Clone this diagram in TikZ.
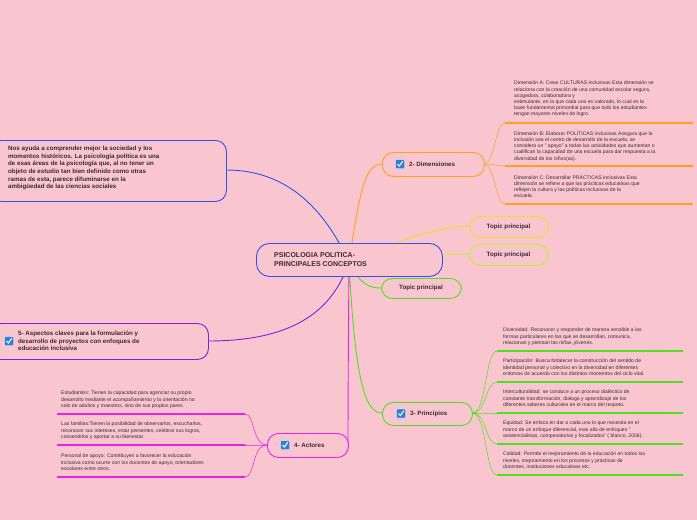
\documentclass[tikz,border=0pt]{standalone}
\usepackage{fontspec}
\setmainfont{Liberation Sans}
\usetikzlibrary{calc}
\begin{document}
\begin{tikzpicture}[x=1pt,y=-1pt,
  box/.style={draw,line width=0.9pt,rounded corners=11pt,fill=pinkbg,inner sep=0pt},
  small/.style={anchor=north west,font=\fontsize{5.1}{6.1}\selectfont,text=textc,align=left,inner sep=0pt},
  big/.style={font=\bfseries\fontsize{6.2}{7.6}\selectfont,text=textc,align=left,inner sep=0pt},
  lab/.style={font=\bfseries\fontsize{6.2}{7.4}\selectfont,text=textc,inner sep=0pt},
  conn/.style={line width=0.9pt},
  uline/.style={line width=1.1pt},
  chk/.style={fill=chkblue,draw=white,line width=0.3pt,rounded corners=1pt,minimum size=9pt,inner sep=0pt}]
\definecolor{pinkbg}{HTML}{F9C6D0}
\definecolor{textc}{HTML}{3A2A2E}
\definecolor{chkblue}{HTML}{2E7FD8}
\definecolor{cblue}{HTML}{3050F0}
\definecolor{corange}{HTML}{FFA020}
\definecolor{cyellow}{HTML}{F0E020}
\definecolor{cyg}{HTML}{C8F020}
\definecolor{cgreen}{HTML}{50E020}
\definecolor{cmag}{HTML}{F020E0}
\definecolor{cpurp}{HTML}{8020E0}
\fill[pinkbg] (0,0) rectangle (697,520);
\useasboundingbox (0,0) rectangle (697,520);
\newcommand{\ck}[1]{\node[chk] at (#1) {}; \draw[white,line width=1pt] ($(#1)+(-2.5,0)$) -- ($(#1)+(-0.6,2)$) -- ($(#1)+(2.8,-2.8)$);}
% connectors
\coordinate (c0) at (349,262);
\draw[conn,cblue] (c0) .. controls (320,200) and (280,170) .. (226,170);
\draw[conn,cpurp] (c0) .. controls (330,320) and (280,341) .. (208,341);
\draw[conn,corange] (c0) .. controls (360,190) and (365,164) .. (382,164);
\draw[conn,cyellow] (c0) .. controls (400,240) and (440,226) .. (469,226);
\draw[conn,cyg] (c0) .. controls (400,255) and (440,254) .. (469,254);
\draw[conn,cgreen] (c0) .. controls (360,285) and (370,288) .. (381,288);
\draw[conn,cgreen] (c0) .. controls (355,380) and (365,413) .. (382,413);
\draw[conn,cmag] (c0) .. controls (348,380) and (348,445) .. (348,445);
% nodes
\node[box,draw=cblue,minimum width=236pt,minimum height=61pt,anchor=north west] (n1) at (-10,140) {};
\node[big,anchor=north west] at (8,146) {Nos ayuda a comprender mejor la sociedad y los\\momentos históricos. La psicología política es una\\de esas áreas de la psicología que, al no tener un\\objeto de estudio tan bien definido como otras\\ramas de esta, parece difuminarse en la\\ambigüedad de las ciencias sociales};
\node[box,draw=cpurp,minimum width=218pt,minimum height=36pt,anchor=north west] (n5) at (-10,323) {};
\ck{9,341}
\node[big,anchor=west] at (18,341) {5- Aspectos claves para la formulación y\\desarrollo de proyectos con enfoques de\\educación inclusiva};
\node[box,draw=cblue,minimum width=186pt,minimum height=33pt,anchor=north west,rounded corners=13pt] (c) at (256,243) {};
\node[big,font=\bfseries\fontsize{7}{8.6}\selectfont,anchor=west] at (274,259.5) {PSICOLOGIA POLITICA-\\PRINCIPALES CONCEPTOS};
\node[box,draw=corange,minimum width=102pt,minimum height=24pt,anchor=north west] (d) at (382,152) {};
\ck{400,164}
\node[lab,anchor=west] at (409,164) {2- Dimensiones};
\node[box,draw=cyellow,minimum width=79pt,minimum height=21pt,anchor=north west] (t1) at (469,216) {};
\node[lab] at (508.5,226.5) {Topic principal};
\node[box,draw=cyg,minimum width=79pt,minimum height=21pt,anchor=north west] (t2) at (469,244) {};
\node[lab] at (508.5,254.5) {Topic principal};
\node[box,draw=cgreen,minimum width=80pt,minimum height=20pt,anchor=north west] (t3) at (381,278) {};
\node[lab] at (421,288) {Topic principal};
\node[box,draw=cgreen,minimum width=90pt,minimum height=23pt,anchor=north west] (p) at (382,402) {};
\ck{401,413.5}
\node[lab,anchor=west] at (410,413.5) {3- Principios};
\node[box,draw=cmag,minimum width=81pt,minimum height=24pt,anchor=north west] (a) at (267,433) {};
\ck{285,445}
\node[lab,anchor=west] at (294,445) {4- Actores};
% dimensiones children
\foreach \y in {123,166,204}{\draw[conn,corange,line width=0.5pt] (484,164) .. controls (495,164) and (495,\y) .. (505,\y);
\draw[uline,corange] (505,\y) -- (693,\y);}
\node[small] at (514,81) {Dimensión A: Crear CULTURAS inclusivas Esta dimensión se\\relaciona con la creación de una comunidad escolar segura,\\acogedora, colaboradora y\\ estimulante, en la que cada uno es valorado, lo cual es la\\base fundamental primordial para que todo los estudiantes\\tengan mayores niveles de logro.};
\node[small] at (514,131) {Dimensión B: Elaborar POLÍTICAS inclusivas  Asegura que la\\inclusión sea el centro de desarrollo de la escuela, se\\considera un " apoyo" a todas las actividades que aumentan o\\cualifican la capacidad de una escuela para dar respuesta a la\\diversidad de los niños(as).};
\node[small] at (514,175) {Dimensión C: Desarrollar PRÁCTICAS inclusivas Esta\\dimensión se refiere a que las prácticas educativas que\\reflejen la cultura y las políticas inclusivas de la\\escuela.};
% principios children
\foreach \y in {351,382,413,444,475}{\draw[conn,cgreen,line width=0.5pt] (472,413) .. controls (487,413) and (485,\y) .. (497,\y);
\draw[uline,cgreen] (497,\y) -- (683,\y);}
\node[small] at (503,328) {Diversidad: Reconocer y responder de manera sensible a las\\formas particulares en las que se desarrollan, comunica,\\relacionan y piensan las niñas, jóvenes.};
\node[small] at (503,359) {Participación: Busca fortalecer la construcción del sentido de\\identidad personal y colectivo en la diversidad en diferentes\\entornos de acuerdo con los distintos momentos del ciclo vital.};
\node[small] at (503,390) {Interculturalidad: se conduce a un proceso dialéctico de\\constante transformación, dialogo y aprendizaje de los\\diferentes saberes culturales en el marco del respeto.};
\node[small] at (503,421) {Equidad: Se enfoca en dar a cada uno lo que necesita en el\\marco de un enfoque diferencial, mas alla de enfoques "\\asistencialistas, compesatorios y focalizados" ( blanco, 2006).};
\node[small] at (503,452) {Calidad: Permite el mejoramiento de la educación en todos los\\niveles, mejoramiento en los procesos y prácticas de\\docentes, instituciones educativas etc.};
% actores children
\foreach \y in {414,445,477}{\draw[conn,cmag,line width=0.5pt] (267,445) .. controls (252,445) and (255,\y) .. (245,\y);
\draw[uline,cmag] (245,\y) -- (57,\y);}
\node[small] at (61,391) {Estudiantes: Tienen la capacidad para agenciar su propio\\desarrollo mediante el acompañamiento y la orientación no\\solo de adultos y maestros, sino de sus propios pares.};
\node[small] at (61,422) {Las familias:Tienen la posibilidad de observarlos, escucharlos,\\reconocer sus intereses, estar presentes, celebrar sus logros,\\consentirlos y aportar a su bienestar.};
\node[small] at (61,454) {Personal de apoyo: Contribuyen a favorecer la educación\\inclusiva como ocurre con los docentes de apoyo, orientadores\\escolares entre otros.};
\end{tikzpicture}
\end{document}
